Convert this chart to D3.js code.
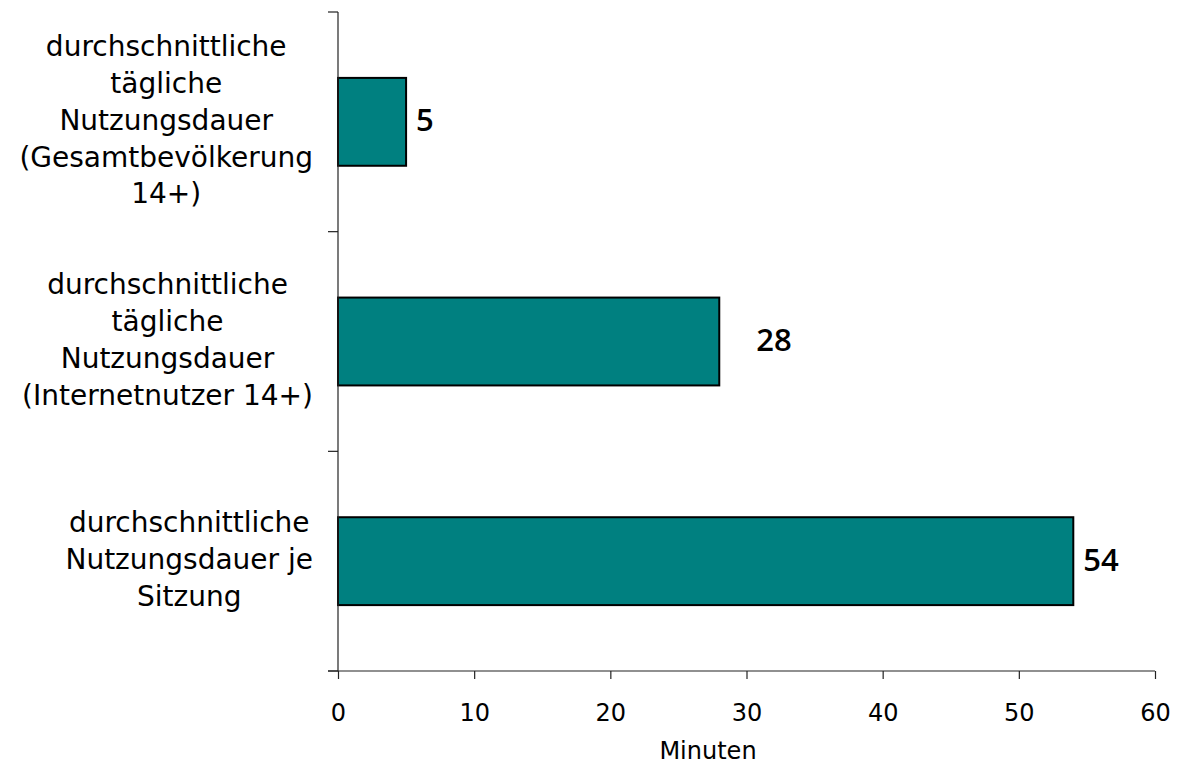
<!DOCTYPE html>
<html>
<head>
<meta charset="utf-8">
<script src="https://cdn.jsdelivr.net/npm/d3@7"></script>
<style>
  html, body { margin: 0; padding: 0; background: #fff; }
  svg { display: block; }
</style>
</head>
<body>
<svg id="chart" width="1182" height="767"></svg>
<script>
// ---- data ----
const categories = [
  ["durchschnittliche", "tägliche", "Nutzungsdauer", "(Gesamtbevölkerung", "14+)"],
  ["durchschnittliche", "tägliche", "Nutzungsdauer", "(Internetnutzer 14+)"],
  ["durchschnittliche", "Nutzungsdauer je", "Sitzung"]
];
const values = [5, 28, 54];
const xTicks = [0, 10, 20, 30, 40, 50, 60];
const xTitle = "Minuten";

// ---- layout ----
(function () {
const svg = d3.select("#chart");
const plotL = 338, plotR = 1155, plotT = 12, plotB = 671;
const catFont = "'DejaVu Sans', sans-serif";

const x = d3.scaleLinear().domain([0, 60]).range([plotL, plotR]);
const y = d3.scaleBand().domain(d3.range(categories.length)).range([plotT, plotB]).padding(0);

// bars
svg.append("g").selectAll("rect")
  .data(values)
  .join("rect")
  .attr("x", x(0))
  .attr("y", (d, i) => y(i) + y.bandwidth() * 0.3)
  .attr("width", d => x(d) - x(0))
  .attr("height", y.bandwidth() * 0.4)
  .attr("fill", "#008080")
  .attr("stroke", "#000")
  .attr("stroke-width", 2);

// value labels
svg.append("g").selectAll("text")
  .data(values)
  .join("text")
  .attr("x", (d, i) => x(d) + (i === 1 ? 37 : 10))
  .attr("y", (d, i) => y(i) + y.bandwidth() / 2 + 9.5)
  .attr("font-family", "'Open Sans', sans-serif")
  .attr("font-weight", 600)
  .attr("font-size", 31)
  .attr("fill", "#000")
  .text(d => d);

// y axis line + boundary ticks
const yAxisG = svg.append("g");
yAxisG.append("line")
  .attr("x1", plotL).attr("x2", plotL)
  .attr("y1", plotT).attr("y2", plotB)
  .attr("stroke", "#222").attr("stroke-width", 1.2);
const bounds = d3.range(categories.length + 1).map(i => i < categories.length ? y(i) : plotB);
yAxisG.selectAll("line.tick")
  .data(bounds)
  .join("line")
  .attr("class", "tick")
  .attr("x1", plotL - 10).attr("x2", plotL)
  .attr("y1", d => d).attr("y2", d => d)
  .attr("stroke", "#222").attr("stroke-width", 1.2);

// x axis
const xAxis = d3.axisBottom(x).tickValues(xTicks).tickSize(8).tickPadding(0).tickFormat(d3.format("d"));
const xg = svg.append("g").attr("transform", `translate(0,${plotB})`).call(xAxis);
xg.select(".domain").remove();
xg.append("line").attr("x1", plotL - 10).attr("x2", plotR).attr("y1", 0).attr("y2", 0)
  .attr("stroke", "#222").attr("stroke-width", 1.2);
xg.selectAll(".tick line").attr("stroke", "#222").attr("stroke-width", 1.2);
xg.selectAll(".tick text")
  .attr("y", 50)
  .attr("dy", null)
  .attr("font-family", catFont)
  .attr("font-size", 24)
  .attr("fill", "#000");

// x title
svg.append("text")
  .attr("x", 708).attr("y", 759)
  .attr("text-anchor", "middle")
  .attr("font-family", catFont)
  .attr("font-size", 24)
  .attr("fill", "#000")
  .text(xTitle);

// category labels (block right-aligned, lines centered within block)
const lh = 36.7;
const labelRight = 313;
categories.forEach((lines, i) => {
  const g = svg.append("g");
  const cy = y(i) + y.bandwidth() / 2;
  const texts = g.selectAll("text")
    .data(lines)
    .join("text")
    .attr("y", (d, j) => cy + (j - (lines.length - 1) / 2) * lh + 8)
    .attr("font-family", catFont)
    .attr("font-size", 28)
    .attr("fill", "#000")
    .attr("text-anchor", "middle")
    .text(d => d);
  let maxW = 0;
  texts.each(function () { maxW = Math.max(maxW, this.getComputedTextLength()); });
  texts.attr("x", labelRight - maxW / 2);
});
})();
</script>
</body>
</html>
